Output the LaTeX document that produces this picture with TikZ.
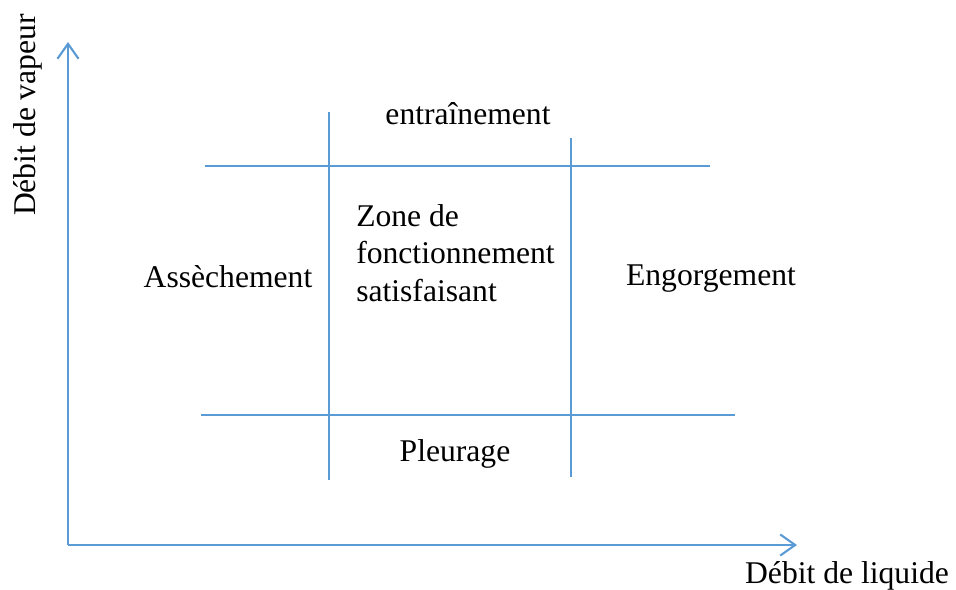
\documentclass[tikz,border=0pt]{standalone}
\usepackage{fontspec}
\setmainfont{Liberation Serif}
\usetikzlibrary{arrows.meta}
\definecolor{axisblue}{HTML}{5B9BD5}
\tikzset{
	axis/.style={draw=axisblue, line width=1.2pt, -{Straight Barb[length=8.5pt,width=12pt,line width=1.2pt]}},
	zoneline/.style={draw=axisblue, line width=1.2pt},
	lbl/.style={font=\fontsize{18}{21.3}\selectfont, inner sep=0pt}
}
\begin{document}
\begin{tikzpicture}[x=0.02cm, y=-0.02cm]

	\useasboundingbox (0,0) rectangle (956,590);

	\coordinate (o) at (68,545);
	\coordinate (ytip) at (68,42);
	\coordinate (xtip) at (797,545);

	\coordinate (v1a) at (329,112);
	\coordinate (v1b) at (329,480);
	\coordinate (v2a) at (571,138);
	\coordinate (v2b) at (571,477);
	\coordinate (h1a) at (205,166);
	\coordinate (h1b) at (710,166);
	\coordinate (h2a) at (201,415);
	\coordinate (h2b) at (735,415);

	\draw[axis] (o) -- (ytip);
	\draw[axis] (o) -- (xtip);

	\draw[zoneline] (v1a) -- (v1b);
	\draw[zoneline] (v2a) -- (v2b);
	\draw[zoneline] (h1a) -- (h1b);
	\draw[zoneline] (h2a) -- (h2b);

	\node[lbl] (entr) at (468,114) {entraînement};
	\node[lbl, align=left] (zone) at (455.5,253) {Zone de\\fonctionnement\\satisfaisant};
	\node[lbl] (asse) at (228,277) {Assèchement};
	\node[lbl] (engo) at (711,279) {Engorgement};
	\node[lbl] (pleu) at (455,454) {Pleurage};
	\node[lbl] (liq) at (847,576) {Débit de liquide};
	\node[lbl, rotate=90] (vap) at (28,115) {Débit de vapeur};

\end{tikzpicture}
\end{document}
